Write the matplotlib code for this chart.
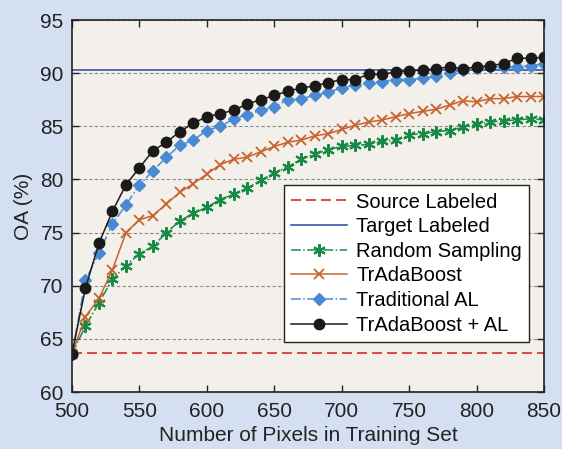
import matplotlib
matplotlib.use("Agg")
import matplotlib.pyplot as plt

plt.rcParams["font.family"] = ["Liberation Sans", "DejaVu Sans"]

# pixel counts in training set
pixels = list(range(500, 851, 10))

source_labeled = 63.7
target_labeled = 90.3

random_sampling = [63.6, 66.2, 68.4, 70.6, 71.9, 73.0, 73.7, 75.0, 76.1, 76.8,
                   77.4, 78.1, 78.6, 79.2, 79.9, 80.6, 81.2, 81.9, 82.4, 82.8,
                   83.1, 83.2, 83.3, 83.6, 83.7, 84.2, 84.3, 84.5, 84.6, 84.9,
                   85.2, 85.4, 85.5, 85.6, 85.7, 85.6]
tradaboost = [63.6, 67.1, 68.8, 71.5, 75.0, 76.2, 76.6, 77.7, 78.8, 79.6,
              80.5, 81.4, 81.9, 82.1, 82.6, 83.1, 83.5, 83.7, 84.1, 84.3,
              84.7, 85.1, 85.4, 85.6, 85.9, 86.2, 86.4, 86.6, 87.0, 87.4,
              87.3, 87.6, 87.6, 87.8, 87.8, 87.8]
traditional_al = [63.6, 70.5, 73.1, 75.8, 77.6, 79.5, 80.8, 82.1, 83.2, 83.7,
                  84.6, 85.0, 85.7, 86.1, 86.5, 86.8, 87.5, 87.6, 87.9, 88.2,
                  88.6, 88.9, 89.1, 89.2, 89.4, 89.4, 89.5, 89.7, 90.0, 90.3,
                  90.5, 90.6, 90.6, 90.6, 90.7, 90.9]
tradaboost_al = [63.6, 69.8, 74.0, 77.0, 79.5, 81.1, 82.7, 83.5, 84.5, 85.3,
                 85.9, 86.2, 86.5, 87.1, 87.5, 87.9, 88.3, 88.6, 88.8, 89.1,
                 89.4, 89.4, 89.9, 89.9, 90.1, 90.2, 90.3, 90.4, 90.6, 90.4,
                 90.6, 90.7, 90.9, 91.4, 91.4, 91.5]

fig = plt.figure(figsize=(5.62, 4.49), dpi=100, facecolor="#d4e0f1")
ax = fig.add_axes([72 / 562, 1 - 392 / 449, 472 / 562, 372 / 449])
ax.set_facecolor("#f3f0eb")

ax.axhline(source_labeled, color="#e8232b", ls=(0, (6, 3)), lw=1.2, label="Source Labeled")
ax.axhline(target_labeled, color="#3655a8", ls="-", lw=1.2, label="Target Labeled")
ax.plot(pixels, random_sampling, color="#188a46", ls="-.", lw=1.1, marker=(6, 2, 0),
        ms=9, mew=1.5, label="Random Sampling")
ax.plot(pixels, tradaboost, color="#c8632c", ls="-", lw=1.1, marker="x",
        ms=7.5, mew=1.3, label="TrAdaBoost")
ax.plot(pixels, traditional_al, color="#4a8ad2", ls="-.", lw=1.1, marker="D",
        ms=6.5, label="Traditional AL")
ax.plot(pixels, tradaboost_al, color="#1a1a1a", ls="-", lw=1.1, marker="o",
        ms=7.5, label="TrAdaBoost + AL")

ax.set_xlim(500, 850)
ax.set_ylim(60, 95)
ax.set_xticks(range(500, 851, 50))
ax.set_yticks(range(60, 96, 5))
ax.grid(axis="y", color="#8a8a8a", ls=(0, (3, 2)), lw=0.8)
ax.set_axisbelow(True)
ax.tick_params(direction="in", top=True, right=True, labelsize=15,
               length=5, width=1, colors="#222222")
ax.tick_params(axis="y", pad=6)
ax.tick_params(axis="x", pad=7)
for s in ax.spines.values():
    s.set_color("#222222")
    s.set_linewidth(1.2)

ax.set_xlabel("Number of Pixels in Training Set", fontsize=15, color="#222222")
ax.set_ylabel("OA (%)", fontsize=15, color="#222222")
ax.xaxis.set_label_coords(0.5, -0.092)
ax.yaxis.set_label_coords(-0.083, 0.5)

leg = ax.legend(loc="lower right", bbox_to_anchor=(0.968, 0.135), fontsize=14.5,
                frameon=True, fancybox=False, framealpha=1, edgecolor="#222222",
                handlelength=2.8, labelspacing=0.28, borderpad=0.35,
                handletextpad=0.45, borderaxespad=0)
leg.get_frame().set_linewidth(1.0)

fig.savefig("out.png", dpi=100, facecolor=fig.get_facecolor())
